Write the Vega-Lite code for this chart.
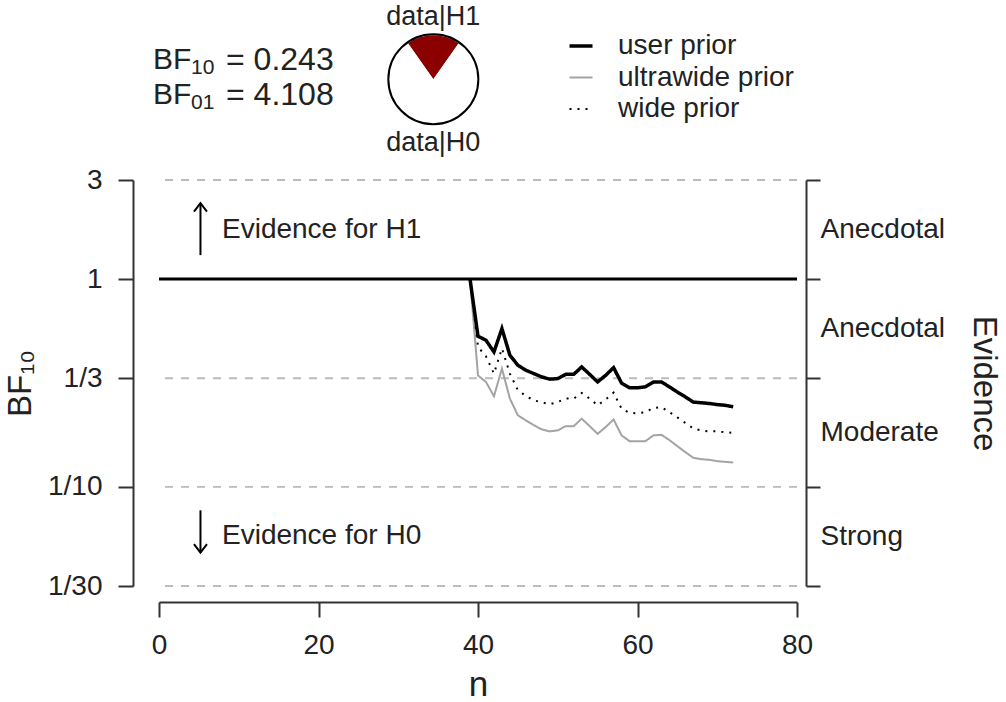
{
  "$schema": "https://vega.github.io/schema/vega-lite/v6.json",
  "description": "Sequential Bayes factor robustness plot: BF10 against n for three priors.",
  "autosize": {"type": "none"},
  "width": 638,
  "height": 406,
  "padding": {"left": 159, "top": 180, "right": 209, "bottom": 116},
  "background": "white",
  "config": {
    "font": "Liberation Sans",
    "view": {"stroke": null},
    "axis": {
      "grid": false,
      "domainColor": "#333333",
      "tickColor": "#333333",
      "labelColor": "#222222",
      "titleColor": "#222222",
      "domainWidth": 2,
      "tickWidth": 2,
      "labelFontSize": 28,
      "titleFontSize": 33,
      "titleFontWeight": "normal"
    }
  },
  "resolve": {"scale": {"x": "shared", "y": "shared"}, "axis": {"x": "independent", "y": "independent"}},
  "layer": [
    {
      "data": {"values": [{"bf": 3}, {"bf": 0.3333333333333333}, {"bf": 0.1}, {"bf": 0.03333333333333333}]},
      "mark": {"type": "rule", "color": "#bbbbbb", "strokeWidth": 1.8, "strokeDash": [8, 8]},
      "encoding": {
        "y": {
          "field": "bf",
          "type": "quantitative",
          "scale": {"type": "log", "domain": [0.03333333333333333, 3], "nice": false},
          "axis": {
            "orient": "left",
            "offset": 26,
            "values": [0.03333333333333333, 0.1, 0.3333333333333333, 1, 3],
            "labelExpr": "datum.value > 2 ? '3' : datum.value > 0.9 ? '1' : datum.value > 0.3 ? '1/3' : datum.value > 0.09 ? '1/10' : '1/30'",
            "tickSize": 15,
            "labelPadding": 16,
            "title": "BF₁₀",
            "titlePadding": 10
          }
        }
      }
    },
    {
      "data": {"values": [{"bf": 1}]},
      "mark": {"type": "rule", "color": "#000000", "strokeWidth": 3},
      "encoding": {
        "y": {
          "field": "bf",
          "type": "quantitative",
          "axis": {
            "orient": "right",
            "offset": 9,
            "values": [0.03333333333333333, 0.1, 0.3333333333333333, 1, 3],
            "labels": false,
            "tickSize": 14,
            "title": null
          }
        }
      }
    },
    {
      "data": {
        "values": [
          {"n": 39, "bf": 1, "prior": "ultrawide prior"},
          {"n": 40, "bf": 0.344, "prior": "ultrawide prior"},
          {"n": 41, "bf": 0.32, "prior": "ultrawide prior"},
          {"n": 42, "bf": 0.273, "prior": "ultrawide prior"},
          {"n": 43, "bf": 0.371, "prior": "ultrawide prior"},
          {"n": 44, "bf": 0.266, "prior": "ultrawide prior"},
          {"n": 45, "bf": 0.221, "prior": "ultrawide prior"},
          {"n": 46, "bf": 0.209, "prior": "ultrawide prior"},
          {"n": 47, "bf": 0.198, "prior": "ultrawide prior"},
          {"n": 48, "bf": 0.189, "prior": "ultrawide prior"},
          {"n": 49, "bf": 0.185, "prior": "ultrawide prior"},
          {"n": 50, "bf": 0.187, "prior": "ultrawide prior"},
          {"n": 51, "bf": 0.196, "prior": "ultrawide prior"},
          {"n": 52, "bf": 0.196, "prior": "ultrawide prior"},
          {"n": 53, "bf": 0.213, "prior": "ultrawide prior"},
          {"n": 54, "bf": 0.196, "prior": "ultrawide prior"},
          {"n": 55, "bf": 0.18, "prior": "ultrawide prior"},
          {"n": 56, "bf": 0.194, "prior": "ultrawide prior"},
          {"n": 57, "bf": 0.211, "prior": "ultrawide prior"},
          {"n": 58, "bf": 0.177, "prior": "ultrawide prior"},
          {"n": 59, "bf": 0.166, "prior": "ultrawide prior"},
          {"n": 60, "bf": 0.166, "prior": "ultrawide prior"},
          {"n": 61, "bf": 0.166, "prior": "ultrawide prior"},
          {"n": 62, "bf": 0.177, "prior": "ultrawide prior"},
          {"n": 63, "bf": 0.178, "prior": "ultrawide prior"},
          {"n": 64, "bf": 0.168, "prior": "ultrawide prior"},
          {"n": 65, "bf": 0.157, "prior": "ultrawide prior"},
          {"n": 66, "bf": 0.147, "prior": "ultrawide prior"},
          {"n": 67, "bf": 0.138, "prior": "ultrawide prior"},
          {"n": 68, "bf": 0.136, "prior": "ultrawide prior"},
          {"n": 69, "bf": 0.135, "prior": "ultrawide prior"},
          {"n": 70, "bf": 0.133, "prior": "ultrawide prior"},
          {"n": 71, "bf": 0.132, "prior": "ultrawide prior"},
          {"n": 72, "bf": 0.131, "prior": "ultrawide prior"},
          {"n": 39, "bf": 1, "prior": "wide prior"},
          {"n": 40, "bf": 0.472, "prior": "wide prior"},
          {"n": 41, "bf": 0.425, "prior": "wide prior"},
          {"n": 42, "bf": 0.351, "prior": "wide prior"},
          {"n": 43, "bf": 0.464, "prior": "wide prior"},
          {"n": 44, "bf": 0.351, "prior": "wide prior"},
          {"n": 45, "bf": 0.292, "prior": "wide prior"},
          {"n": 46, "bf": 0.274, "prior": "wide prior"},
          {"n": 47, "bf": 0.261, "prior": "wide prior"},
          {"n": 48, "bf": 0.255, "prior": "wide prior"},
          {"n": 49, "bf": 0.25, "prior": "wide prior"},
          {"n": 50, "bf": 0.256, "prior": "wide prior"},
          {"n": 51, "bf": 0.266, "prior": "wide prior"},
          {"n": 52, "bf": 0.266, "prior": "wide prior"},
          {"n": 53, "bf": 0.283, "prior": "wide prior"},
          {"n": 54, "bf": 0.266, "prior": "wide prior"},
          {"n": 55, "bf": 0.247, "prior": "wide prior"},
          {"n": 56, "bf": 0.263, "prior": "wide prior"},
          {"n": 57, "bf": 0.284, "prior": "wide prior"},
          {"n": 58, "bf": 0.238, "prior": "wide prior"},
          {"n": 59, "bf": 0.227, "prior": "wide prior"},
          {"n": 60, "bf": 0.226, "prior": "wide prior"},
          {"n": 61, "bf": 0.229, "prior": "wide prior"},
          {"n": 62, "bf": 0.24, "prior": "wide prior"},
          {"n": 63, "bf": 0.242, "prior": "wide prior"},
          {"n": 64, "bf": 0.229, "prior": "wide prior"},
          {"n": 65, "bf": 0.216, "prior": "wide prior"},
          {"n": 66, "bf": 0.203, "prior": "wide prior"},
          {"n": 67, "bf": 0.191, "prior": "wide prior"},
          {"n": 68, "bf": 0.187, "prior": "wide prior"},
          {"n": 69, "bf": 0.185, "prior": "wide prior"},
          {"n": 70, "bf": 0.185, "prior": "wide prior"},
          {"n": 71, "bf": 0.183, "prior": "wide prior"},
          {"n": 72, "bf": 0.182, "prior": "wide prior"},
          {"n": 39, "bf": 1, "prior": "user prior"},
          {"n": 40, "bf": 0.531, "prior": "user prior"},
          {"n": 41, "bf": 0.508, "prior": "user prior"},
          {"n": 42, "bf": 0.446, "prior": "user prior"},
          {"n": 43, "bf": 0.578, "prior": "user prior"},
          {"n": 44, "bf": 0.43, "prior": "user prior"},
          {"n": 45, "bf": 0.385, "prior": "user prior"},
          {"n": 46, "bf": 0.364, "prior": "user prior"},
          {"n": 47, "bf": 0.351, "prior": "user prior"},
          {"n": 48, "bf": 0.338, "prior": "user prior"},
          {"n": 49, "bf": 0.33, "prior": "user prior"},
          {"n": 50, "bf": 0.332, "prior": "user prior"},
          {"n": 51, "bf": 0.348, "prior": "user prior"},
          {"n": 52, "bf": 0.348, "prior": "user prior"},
          {"n": 53, "bf": 0.378, "prior": "user prior"},
          {"n": 54, "bf": 0.348, "prior": "user prior"},
          {"n": 55, "bf": 0.32, "prior": "user prior"},
          {"n": 56, "bf": 0.344, "prior": "user prior"},
          {"n": 57, "bf": 0.375, "prior": "user prior"},
          {"n": 58, "bf": 0.316, "prior": "user prior"},
          {"n": 59, "bf": 0.3, "prior": "user prior"},
          {"n": 60, "bf": 0.3, "prior": "user prior"},
          {"n": 61, "bf": 0.303, "prior": "user prior"},
          {"n": 62, "bf": 0.32, "prior": "user prior"},
          {"n": 63, "bf": 0.32, "prior": "user prior"},
          {"n": 64, "bf": 0.303, "prior": "user prior"},
          {"n": 65, "bf": 0.286, "prior": "user prior"},
          {"n": 66, "bf": 0.271, "prior": "user prior"},
          {"n": 67, "bf": 0.256, "prior": "user prior"},
          {"n": 68, "bf": 0.254, "prior": "user prior"},
          {"n": 69, "bf": 0.252, "prior": "user prior"},
          {"n": 70, "bf": 0.249, "prior": "user prior"},
          {"n": 71, "bf": 0.247, "prior": "user prior"},
          {"n": 72, "bf": 0.243, "prior": "user prior"}
        ]
      },
      "mark": {"type": "line"},
      "encoding": {
        "x": {
          "field": "n",
          "type": "quantitative",
          "scale": {"domain": [0, 80], "nice": false, "zero": false},
          "axis": {
            "orient": "bottom",
            "offset": 16,
            "values": [0, 20, 40, 60, 80],
            "tickSize": 15,
            "labelPadding": 14,
            "labelFlush": false,
            "title": "n",
            "titleFontSize": 35,
            "titlePadding": 8
          }
        },
        "y": {
          "field": "bf",
          "type": "quantitative",
          "axis": {
            "orient": "right",
            "offset": 9,
            "values": [0.05773502691896258, 0.18257418583505536, 0.5773502691896258, 1.7320508075688772],
            "labelExpr": "datum.value > 1 ? 'Anecdotal' : datum.value > 0.4 ? 'Anecdotal' : datum.value > 0.1 ? 'Moderate' : 'Strong'",
            "ticks": false,
            "domain": false,
            "labelPadding": 14,
            "labelAlign": "left",
            "title": "Evidence",
            "titlePadding": 22
          }
        },
        "color": {
          "field": "prior",
          "type": "nominal",
          "scale": {"domain": ["user prior", "ultrawide prior", "wide prior"], "range": ["#000000", "#a3a3a3", "#000000"]},
          "legend": {
            "title": null,
            "orient": "none",
            "legendX": 408,
            "legendY": -148,
            "padding": 0,
            "labelFontSize": 28,
            "labelColor": "#222222",
            "labelLimit": 400,
            "symbolType": "stroke",
            "symbolSize": 529,
            "labelOffset": 23,
            "rowPadding": 3.5
          }
        },
        "strokeWidth": {
          "field": "prior",
          "type": "nominal",
          "scale": {"type": "ordinal", "domain": ["user prior", "ultrawide prior", "wide prior"], "range": [3.5, 2, 2]},
          "legend": {"title": null}
        },
        "strokeDash": {
          "field": "prior",
          "type": "nominal",
          "scale": {"domain": ["user prior", "ultrawide prior", "wide prior"], "range": [[1, 0], [1, 0], [2, 6]]},
          "legend": {"title": null}
        }
      }
    },
    {
      "data": {"values": [{"n": 5.2, "from": 1.305, "to": 2.32}, {"n": 5.2, "from": 0.0771, "to": 0.0483}]},
      "mark": {"type": "rule", "color": "#000000", "strokeWidth": 2},
      "encoding": {
        "x": {"field": "n", "type": "quantitative", "axis": null},
        "y": {"field": "from", "type": "quantitative", "axis": null},
        "y2": {"field": "to"}
      }
    },
    {
      "data": {"values": [{"n": 5.2, "bf": 2.32}]},
      "mark": {"type": "point", "shape": "M-1,1.3L0,0L1,1.3", "size": 169, "filled": false, "stroke": "#000000", "strokeWidth": 2, "opacity": 1},
      "encoding": {
        "x": {"field": "n", "type": "quantitative", "axis": null},
        "y": {"field": "bf", "type": "quantitative", "axis": null}
      }
    },
    {
      "data": {"values": [{"n": 5.2, "bf": 0.0483}]},
      "mark": {"type": "point", "shape": "M-1,-1.3L0,0L1,-1.3", "size": 169, "filled": false, "stroke": "#000000", "strokeWidth": 2, "opacity": 1},
      "encoding": {
        "x": {"field": "n", "type": "quantitative", "axis": null},
        "y": {"field": "bf", "type": "quantitative", "axis": null}
      }
    },
    {
      "data": {"values": [{"n": 7.9, "bf": 1.7320508075688772, "label": "Evidence for H1"}, {"n": 7.9, "bf": 0.05773502691896258, "label": "Evidence for H0"}]},
      "mark": {"type": "text", "align": "left", "baseline": "middle", "fontSize": 28, "color": "#222222"},
      "encoding": {
        "x": {"field": "n", "type": "quantitative", "axis": null},
        "y": {"field": "bf", "type": "quantitative", "axis": null},
        "text": {"field": "label"}
      }
    },
    {
      "data": {"values": [{"n": -0.75, "bf": 11.36, "label": "BF"}, {"n": -0.75, "bf": 7.7, "label": "BF"}]},
      "mark": {"type": "text", "align": "left", "baseline": "middle", "fontSize": 30, "color": "#222222"},
      "encoding": {
        "x": {"field": "n", "type": "quantitative", "axis": null},
        "y": {"field": "bf", "type": "quantitative", "axis": null},
        "text": {"field": "label"}
      }
    },
    {
      "data": {"values": [{"n": -0.75, "bf": 11.36, "label": "10"}, {"n": -0.75, "bf": 7.7, "label": "01"}]},
      "mark": {"type": "text", "align": "left", "baseline": "middle", "fontSize": 21, "dx": 38, "dy": 8, "color": "#222222"},
      "encoding": {
        "x": {"field": "n", "type": "quantitative", "axis": null},
        "y": {"field": "bf", "type": "quantitative", "axis": null},
        "text": {"field": "label"}
      }
    },
    {
      "data": {"values": [{"n": -0.75, "bf": 11.36, "label": "= 0.243"}, {"n": -0.75, "bf": 7.7, "label": "= 4.108"}]},
      "mark": {"type": "text", "align": "left", "baseline": "middle", "fontSize": 32, "dx": 73, "color": "#222222"},
      "encoding": {
        "x": {"field": "n", "type": "quantitative", "axis": null},
        "y": {"field": "bf", "type": "quantitative", "axis": null},
        "text": {"field": "label"}
      }
    },
    {
      "data": {"values": [{"hyp": "data|H1", "p": 0.1955}, {"hyp": "data|H0", "p": 0.8045}]},
      "mark": {"type": "arc", "outerRadius": 44, "stroke": null},
      "encoding": {
        "x": {"datum": 34.4, "axis": null},
        "y": {"datum": 9.17, "axis": null},
        "theta": {"field": "p", "type": "quantitative", "stack": true, "scale": {"range": [-0.6143, 5.6689]}},
        "order": {"field": "p", "sort": "ascending"},
        "fill": {"field": "hyp", "type": "nominal", "scale": {"domain": ["data|H1", "data|H0"], "range": ["#8b0000", "#ffffff"]}, "legend": null}
      }
    },
    {
      "data": {"values": [{"n": 34.4, "bf": 9.17}]},
      "mark": {"type": "point", "shape": "circle", "size": 8100, "filled": false, "stroke": "#000000", "strokeWidth": 2, "opacity": 1},
      "encoding": {
        "x": {"field": "n", "type": "quantitative", "axis": null},
        "y": {"field": "bf", "type": "quantitative", "axis": null}
      }
    },
    {
      "data": {"values": [{"n": 34.4, "bf": 18.3, "label": "data|H1"}, {"n": 34.4, "bf": 4.52, "label": "data|H0"}]},
      "mark": {"type": "text", "align": "center", "baseline": "middle", "fontSize": 27, "color": "#222222"},
      "encoding": {
        "x": {"field": "n", "type": "quantitative", "axis": null},
        "y": {"field": "bf", "type": "quantitative", "axis": null},
        "text": {"field": "label"}
      }
    }
  ]
}
